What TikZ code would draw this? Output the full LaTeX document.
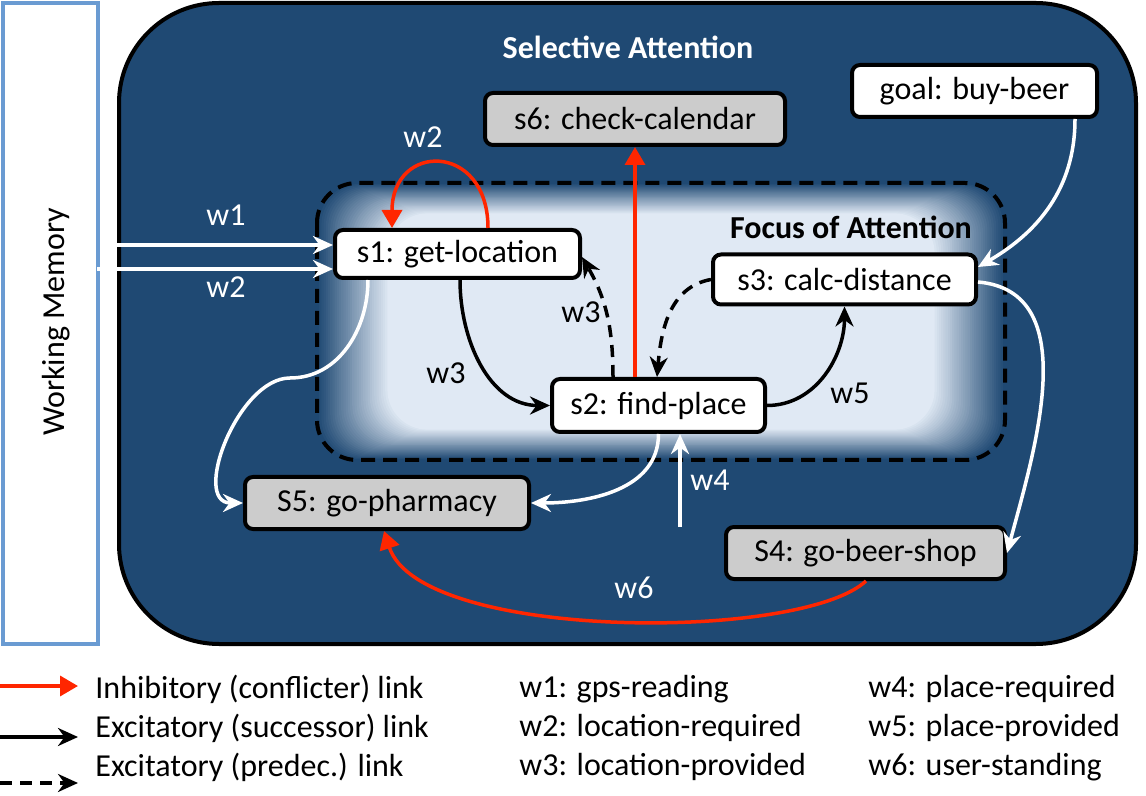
\documentclass[tikz,border=0pt]{standalone}
\usepackage{fontspec}
\setmainfont{Carlito}
\usetikzlibrary{arrows.meta}

\definecolor{sablue}{RGB}{31,73,115}
\definecolor{foalight}{RGB}{224,233,244}
\definecolor{boxgray}{RGB}{204,204,204}
\definecolor{inhibred}{RGB}{255,38,0}
\definecolor{wmblue}{RGB}{106,155,210}

\newcommand{\diagfont}{\fontsize{16}{19}\selectfont}

\tikzset{
  state/.style={draw=black, line width=2pt, rounded corners=4pt, fill=white,
    minimum height=25pt, inner sep=0pt, font=\diagfont},
  idle/.style={state, fill=boxgray},
  succ/.style={line width=1.75pt, -{Stealth[length=10pt,width=9pt]}},
  pred/.style={succ, dash pattern=on 6pt off 4pt},
  inhib/.style={line width=1.75pt, draw=inhibred, -{Triangle[length=9pt,width=10pt]}},
  feed/.style={line width=1.75pt, draw=white, -{Stealth[length=10pt,width=9pt]}},
  wlabel/.style={font=\diagfont},
  legtext/.style={font=\diagfont, anchor=west, inner sep=0pt}
}

\begin{document}
\begin{tikzpicture}[x=0.5pt,y=0.5pt]
\useasboundingbox (0,0) rectangle (1146,-796);

% Working memory strip.
\draw[draw=wmblue, line width=1.75pt, fill=white] (3,-3) rectangle (98,-644);
\node[rotate=90, font=\diagfont] (wmtext) at (56,-322) {Working Memory};

% Selective attention area.
\draw[line width=2pt, fill=sablue, rounded corners=50pt] (119,-3) rectangle (1136,-644);
\node[font=\diagfont\bfseries, text=white] (satitle) at (628,-47) {Selective Attention};

% Focus of attention, soft inner glow.
\foreach \i in {0,...,32} {
  \pgfmathtruncatemacro\mix{100*\i/32}
  \fill[foalight!\mix!sablue, rounded corners=20pt]
    (317+2.2*\i,-183-0.95*\i) rectangle (1005-2.2*\i,-460+0.95*\i);
}
\draw[line width=2pt, dash pattern=on 7pt off 4pt, rounded corners=20pt]
  (317,-183) rectangle (1005,-460);
\node[font=\diagfont\bfseries] (foatitle) at (851,-227) {Focus of Attention};

% Behaviour nodes.
\node[state, minimum width=122.5pt, minimum height=24pt] (s1) at (457.5,-254) {s1: get-location};
\node[state, minimum width=106.5pt, minimum height=26.5pt] (s2) at (658.5,-405.5) {s2: find-place};
\node[state, minimum width=131.5pt] (s3) at (844.5,-279.5) {s3: calc-distance};
\node[idle, minimum width=150pt, minimum height=26pt] (s6) at (635,-119) {s6: check-calendar};
\node[state, minimum width=122.5pt, minimum height=26pt] (goal) at (974.5,-91) {goal: buy-beer};
\node[idle, minimum width=142pt, minimum height=26pt] (S5) at (387,-503) {S5: go-pharmacy};
\node[idle, minimum width=139.5pt, minimum height=26pt] (S4) at (865.5,-553) {S4: go-beer-shop};

% Inputs from working memory.
\coordinate (w1src) at (100,-245);
\coordinate (w2src) at (97,-269);
\draw[feed] (w1src) -- (w1src -| s1.west);
\draw[feed] (w2src) -- (w2src -| s1.west);

% Links between behaviours.
\draw[inhib] ([xshift=15.25pt]s1.north) to[out=90,in=90,looseness=2.3] ([xshift=-32.75pt]s1.north);
\draw[succ] ([xshift=1.25pt]s1.south) to[out=-90,in=180] (s2.west);
\draw[pred] ([xshift=-22.75pt]s2.north) to[out=90,in=-60] ([yshift=-1.5pt]s1.east);
\draw[pred] (s3.west) to[out=190,in=85] ([xshift=-0.75pt]s2.north);
\draw[succ] (s2.east) to[out=0,in=-90] (s3.south);
\draw[inhib] (s2.north -| s6.south) -- (s6.south);
\draw[feed] ([xshift=50.25pt]goal.south) to[out=-90,in=30] ([yshift=6.25pt]s3.east);
\draw[feed] ([yshift=-1.25pt]s3.east) to[out=-5,in=75] (S4.east);
\coordinate (s1bend) at (290,-378);
\draw[feed] ([xshift=-44.75pt]s1.south) to[out=-90,in=0] (s1bend) to[out=180,in=180] (S5.west);
\draw[feed] (s2.south) to[out=-90,in=0] (S5.east);
\coordinate (w4src) at (680,-527);
\draw[feed] (w4src) -- (w4src |- s2.south);
\draw[inhib] ([xshift=0.25pt]S4.south) .. controls +(-66,-61) and +(36,-110) .. ([xshift=-1.5pt]S5.south);

% Link labels.
\node[wlabel, text=white] (lw1) at (226,-215) {w1};
\node[wlabel, text=white] (lw2a) at (226,-287) {w2};
\node[wlabel, text=white] (lw2b) at (423,-137) {w2};
\node[wlabel] (lw3a) at (446,-373) {w3};
\node[wlabel] (lw3b) at (581,-312) {w3};
\node[wlabel] (lw5) at (850,-393) {w5};
\node[wlabel, text=white] (lw4) at (710,-480) {w4};
\node[wlabel, text=white] (lw6) at (634,-588) {w6};

% Legend.
\coordinate (lg1a) at (0,-686); \coordinate (lg1b) at (78,-686);
\coordinate (lg2a) at (0,-737); \coordinate (lg2b) at (78,-737);
\coordinate (lg3a) at (0,-783); \coordinate (lg3b) at (78,-783);
\draw[inhib] (lg1a) -- (lg1b);
\draw[succ] (lg2a) -- (lg2b);
\draw[pred] (lg3a) -- (lg3b);
\node[legtext] (lt1) at (95,-689) {Inhibitory (conflicter) link};
\node[legtext] (lt2) at (95,-728) {Excitatory (successor) link};
\node[legtext] (lt3) at (95,-767) {Excitatory (predec.) link};
\node[legtext] (lt4) at (519,-689) {w1: gps-reading};
\node[legtext] (lt5) at (519,-728) {w2: location-required};
\node[legtext] (lt6) at (519,-767) {w3: location-provided};
\node[legtext] (lt7) at (868,-689) {w4: place-required};
\node[legtext] (lt8) at (868,-728) {w5: place-provided};
\node[legtext] (lt9) at (868,-767) {w6: user-standing};
\end{tikzpicture}
\end{document}
